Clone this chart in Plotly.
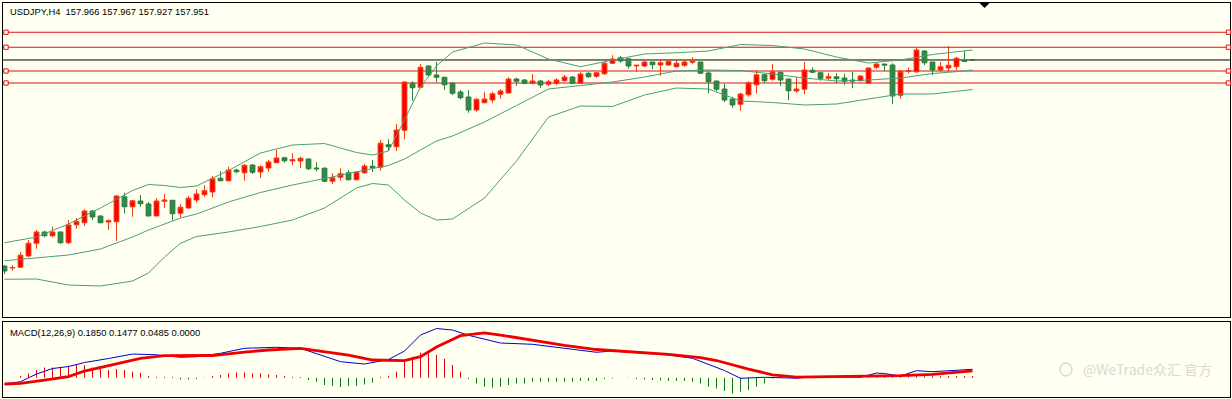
import plotly.graph_objects as go

W, H = 1232, 399

# ---------------- price data (USDJPY H4) ----------------
opens = [149.71, 149.63, 149.66, 150.11, 150.62, 151.07, 150.92, 151.07, 150.64, 151.36,
         151.44, 151.91, 151.71, 151.47, 151.48, 152.48, 152.08, 152.31, 152.19, 151.71,
         152.30, 152.34, 151.82, 152.03, 152.35, 152.56, 152.67, 153.22, 153.12, 153.55,
         153.44, 153.75, 153.47, 153.63, 153.84, 154.04, 153.91, 153.91, 153.99, 153.63,
         153.62, 153.10, 153.26, 153.44, 153.16, 153.44, 153.70, 153.66, 154.56, 154.48,
         155.14, 157.02, 156.86, 157.71, 157.35, 157.26, 157.02, 156.67, 156.47, 155.95,
         156.24, 156.35, 156.58, 156.63, 157.19, 157.15, 157.02, 157.11, 156.98, 157.02,
         157.12, 157.27, 157.02, 157.42, 157.30, 157.40, 157.82, 158.04, 158.00, 157.71,
         157.71, 157.87, 157.75, 157.75, 157.68, 157.74, 157.86, 157.87, 157.43, 157.11,
         156.79, 156.39, 156.18, 156.56, 156.96, 157.36, 157.18, 157.46, 157.19, 156.71,
         156.78, 157.54, 157.44, 157.22, 157.28, 157.23, 157.15, 157.12, 157.02, 157.66,
         157.79, 157.75, 156.54, 157.50, 157.48, 158.31, 157.87, 157.55, 157.63, 157.68,
         157.94, 157.966]
highs = [149.75, 149.74, 150.27, 150.75, 151.15, 151.12, 151.28, 151.08, 151.55, 151.63,
         151.98, 151.95, 151.74, 151.58, 152.55, 152.64, 152.35, 152.55, 152.27, 152.42,
         152.59, 152.35, 152.18, 152.51, 152.78, 152.94, 153.31, 153.50, 153.68, 153.60,
         153.79, 153.78, 153.74, 153.95, 154.35, 154.08, 154.22, 154.08, 154.02, 153.86,
         153.66, 153.42, 153.62, 153.55, 153.50, 153.79, 153.95, 154.75, 154.78, 155.39,
         157.10, 157.10, 157.79, 157.74, 157.88, 157.28, 157.07, 156.75, 156.75, 156.42,
         156.68, 156.68, 156.79, 157.26, 157.24, 157.19, 157.39, 157.14, 157.15, 157.22,
         157.35, 157.31, 157.46, 157.46, 157.48, 157.86, 158.14, 158.11, 158.00, 157.74,
         157.91, 157.87, 157.98, 157.98, 157.98, 157.95, 158.06, 157.87, 157.52, 157.12,
         156.99, 156.48, 156.64, 157.10, 157.55, 157.39, 157.79, 157.48, 157.19, 157.26,
         157.87, 157.66, 157.48, 157.44, 157.42, 157.39, 157.48, 157.34, 157.66, 157.82,
         157.79, 157.82, 157.55, 157.66, 158.43, 158.35, 157.87, 157.87, 158.51, 158.08,
         158.31, 157.967]
lows = [149.39, 149.54, 149.63, 150.06, 150.40, 150.86, 150.86, 150.59, 150.59, 151.20,
        151.31, 151.55, 151.42, 151.15, 150.71, 151.82, 151.68, 152.08, 151.71, 151.71,
        152.03, 151.54, 151.66, 152.00, 152.24, 152.46, 152.46, 153.10, 153.10, 153.42,
        153.12, 153.39, 153.23, 153.48, 153.84, 153.84, 153.74, 153.63, 153.55, 153.50,
        153.06, 152.99, 153.12, 153.14, 153.14, 153.39, 153.47, 153.52, 154.31, 154.31,
        154.78, 156.32, 156.82, 157.26, 157.08, 156.76, 156.55, 156.38, 155.84, 155.88,
        156.22, 156.22, 156.40, 156.62, 156.92, 156.98, 156.98, 156.84, 156.91, 156.95,
        157.08, 157.00, 157.00, 157.24, 157.24, 157.35, 157.79, 157.84, 157.60, 157.48,
        157.66, 157.58, 157.32, 157.71, 157.64, 157.68, 157.78, 157.39, 156.62, 156.70,
        156.27, 156.04, 155.92, 156.48, 156.62, 157.04, 157.12, 156.92, 156.35, 156.64,
        156.58, 157.42, 157.12, 157.15, 157.02, 156.96, 156.82, 157.10, 156.99, 157.59,
        157.52, 156.18, 156.40, 157.42, 157.44, 157.75, 157.35, 157.48, 157.48, 157.55,
        157.90, 157.927]
closes = [149.51, 149.65, 150.14, 150.62, 151.07, 150.92, 151.07, 150.64, 151.35, 151.50,
          151.91, 151.67, 151.44, 151.52, 152.51, 152.08, 152.32, 152.20, 151.71, 152.31,
          152.35, 151.80, 152.06, 152.42, 152.59, 152.72, 153.20, 153.12, 153.55, 153.48,
          153.74, 153.46, 153.68, 153.87, 154.03, 153.92, 153.96, 154.02, 153.60, 153.60,
          153.10, 153.24, 153.40, 153.16, 153.47, 153.71, 153.64, 154.62, 154.48, 155.15,
          157.07, 156.84, 157.66, 157.35, 157.26, 156.96, 156.62, 156.44, 155.95, 156.38,
          156.39, 156.60, 156.71, 157.19, 157.10, 157.02, 157.11, 156.95, 157.08, 157.15,
          157.27, 157.02, 157.39, 157.28, 157.44, 157.82, 157.99, 157.91, 157.71, 157.74,
          157.87, 157.76, 157.84, 157.90, 157.82, 157.87, 157.90, 157.42, 157.08, 156.78,
          156.35, 156.15, 156.59, 157.04, 157.36, 157.12, 157.48, 157.15, 156.72, 156.79,
          157.55, 157.46, 157.22, 157.28, 157.20, 157.10, 157.11, 157.31, 157.63, 157.79,
          157.75, 156.51, 157.50, 157.52, 158.35, 157.84, 157.55, 157.68, 157.74, 158.02,
          157.90, 157.951]

# ---------------- Bollinger bands ----------------
band_idx = [0, 4, 8, 12, 16, 18, 20, 22, 24, 28, 32, 36, 40, 44, 46, 48, 50, 52, 54, 56,
            60, 64, 68, 72, 76, 80, 84, 88, 92, 96, 100, 104, 108, 112, 116, 120, 121]
band_upper = [150.64, 150.87, 151.39, 152.03, 152.73, 152.97, 152.93, 152.85, 152.91, 153.53,
              154.23, 154.55, 154.61, 154.25, 154.15, 154.31, 155.55, 156.87, 157.71, 158.27,
              158.63, 158.55, 157.99, 157.68, 157.95, 158.19, 158.24, 158.31, 158.57, 158.53,
              158.39, 158.07, 157.83, 157.95, 158.17, 158.31, 158.35]
band_middle = [149.92, 150.05, 150.15, 150.39, 150.87, 151.15, 151.39, 151.63, 151.79, 152.27,
               152.65, 152.95, 153.21, 153.49, 153.61, 153.73, 153.99, 154.35, 154.71, 154.91,
               155.47, 156.13, 156.79, 156.93, 157.07, 157.27, 157.51, 157.55, 157.53, 157.39,
               157.23, 157.11, 157.15, 157.23, 157.41, 157.51, 157.55]
band_lower = [149.18, 149.19, 148.95, 148.91, 149.11, 149.43, 150.07, 150.62, 150.89, 151.07,
              151.29, 151.55, 152.03, 152.83, 153.01, 152.95, 152.35, 151.83, 151.55, 151.59,
              152.43, 153.91, 155.67, 156.11, 156.09, 156.55, 156.83, 156.79, 156.31, 156.25,
              156.15, 156.19, 156.39, 156.59, 156.59, 156.75, 156.77]

# ---------------- horizontal levels ----------------
red_levels = [159.06, 158.46, 157.51, 157.03]
current_price = 157.951

# ---------------- MACD (12,26,9) ----------------
macd_idx = [0, 2, 4, 6, 8, 10, 13, 16, 19, 22, 24, 27, 30, 34, 37, 40, 42, 45, 48, 50,
            52, 54, 56, 58, 60, 62, 66, 70, 74, 76, 79, 83, 86, 88, 90, 92, 95, 99, 101, 107,
            109, 110, 112, 114, 116, 119, 121]
macd_vals = [-0.139, -0.088, 0.081, 0.202, 0.246, 0.334, 0.422, 0.521, 0.504, 0.449,
             0.462, 0.537, 0.647, 0.669, 0.647, 0.471, 0.352, 0.301, 0.400, 0.587,
             0.939, 1.082, 1.049, 0.933, 0.840, 0.763, 0.735, 0.653, 0.559, 0.587,
             0.554, 0.499, 0.427, 0.301, 0.158, -0.013, 0.009, -0.011, 0.022, 0.009,
             0.103, 0.092, 0.037, 0.154, 0.132, 0.163, 0.185]
signal_idx = [0, 2, 5, 8, 10, 13, 17, 20, 26, 30, 33, 37, 40, 43, 46, 50, 52, 54, 57, 60,
              62, 66, 70, 74, 79, 83, 87, 89, 93, 96, 99, 107, 112, 116, 121]
signal_vals = [-0.139, -0.123, -0.051, 0.026, 0.147, 0.268, 0.427, 0.484, 0.488, 0.565,
               0.609, 0.647, 0.576, 0.499, 0.389, 0.375, 0.462, 0.675, 0.924, 0.988,
               0.939, 0.829, 0.713, 0.620, 0.570, 0.515, 0.440, 0.378, 0.187, 0.064,
               0.013, 0.022, 0.044, 0.075, 0.148]
hist_vals = [0, 0, 0.037, 0.095, 0.169, 0.227, 0.227, 0.227, 0.264, 0.279,
             0.279, 0.227, 0.191, 0.169, 0.191, 0.169, 0.132, 0.110, 0.037, 0.022,
             0.022, 0.022, -0.037, -0.037, -0.029, 0.005, 0.037, 0.059, 0.095, 0.117,
             0.117, 0.095, 0.095, 0.073, 0.059, 0.037, 0.022, 0.015, -0.051, -0.088,
             -0.161, -0.183, -0.205, -0.183, -0.183, -0.147, -0.110, 0.022, 0.037, 0.132,
             0.374, 0.462, 0.550, 0.572, 0.506, 0.418, 0.279, 0.132, -0.029, -0.125,
             -0.198, -0.220, -0.198, -0.161, -0.125, -0.125, -0.088, -0.088, -0.088, -0.088,
             -0.088, -0.088, -0.073, -0.073, -0.073, -0.029, -0.015, 0.0, -0.007, -0.029,
             -0.037, -0.051, -0.059, -0.073, -0.073, -0.073, -0.088, -0.125, -0.198, -0.235,
             -0.293, -0.345, -0.308, -0.271, -0.198, -0.125, -0.015, 0.0, 0.0, 0.0,
             0.0, 0.0, 0.0, 0.0, 0.0, 0.0, 0.0, 0.022, 0.029, 0.029,
             0.029, 0.029, 0.029, 0.029, 0.033, 0.033, 0.033, 0.033, 0.037, 0.037,
             0.037, 0.037]

title_text = "USDJPY,H4  157.966 157.967 157.927 157.951"
macd_text = "MACD(12,26,9) 0.1850 0.1477 0.0485 0.0000"
watermark_text = "@WeTrade众汇 官方"

# ---------------- styling ----------------
BG = "#FFFFF2"
BAND = "#4A9E78"
UP_FILL, UP_LINE = "#FF0000", "#F03A10"
DN_FILL, DN_LINE = "#2E8B47", "#2E7D3E"
LVL = "#DD1111"
X_RANGE = [-0.1875, 153.1875]   # 8 px per bar, bar centres on pixel centres


def px(x):
    return x / W


def py(y):
    return 1 - y / H


n = len(opens)
idx = list(range(n))

fig = go.Figure()

fig.add_trace(go.Candlestick(
    x=idx, open=opens, high=highs, low=lows, close=closes,
    increasing=dict(line=dict(color=UP_LINE, width=1), fillcolor=UP_FILL),
    decreasing=dict(line=dict(color=DN_LINE, width=1), fillcolor=DN_FILL),
    whiskerwidth=0, hoverinfo="none", showlegend=False, xaxis="x", yaxis="y"))

for band in (band_upper, band_middle, band_lower):
    fig.add_trace(go.Scatter(x=band_idx, y=band, mode="lines",
                             line=dict(color=BAND, width=1),
                             hoverinfo="none", showlegend=False, xaxis="x", yaxis="y"))

# MACD panel
fig.add_trace(go.Bar(
    x=idx, y=hist_vals, width=0.125,
    marker=dict(color=["#E80000" if v >= 0 else "#0A800A" for v in hist_vals],
                line=dict(width=0)),
    hoverinfo="none", showlegend=False, xaxis="x2", yaxis="y2"))
fig.add_trace(go.Scatter(x=macd_idx, y=macd_vals, mode="lines",
                         line=dict(color="#0000CC", width=1),
                         hoverinfo="none", showlegend=False, xaxis="x2", yaxis="y2"))
fig.add_trace(go.Scatter(x=signal_idx, y=signal_vals, mode="lines",
                         line=dict(color="#EE0000", width=2.8),
                         hoverinfo="none", showlegend=False, xaxis="x2", yaxis="y2"))

shapes = []
x_left, x_right = px(3), px(1230)
for lv in red_levels:
    shapes.append(dict(type="line", xref="paper", yref="y", x0=x_left, x1=x_right,
                       y0=lv, y1=lv, line=dict(color=LVL, width=1), layer="below"))
    for cx in (6, 1228.5):
        shapes.append(dict(type="rect", xref="paper", yref="y",
                           x0=px(cx - 2.2), x1=px(cx + 2.2), y0=lv - 0.085, y1=lv + 0.085,
                           line=dict(color=LVL, width=1), fillcolor=BG, layer="above"))
shapes.append(dict(type="line", xref="paper", yref="y", x0=x_left, x1=x_right,
                   y0=current_price, y1=current_price,
                   line=dict(color="#000000", width=1), layer="below"))
# chart-shift marker
shapes.append(dict(type="path", xref="paper", yref="paper",
                   path=f"M {px(979.5)},{py(3)} L {px(989.5)},{py(3)} L {px(984.5)},{py(8)} Z",
                   fillcolor="#000000", line=dict(color="#000000", width=0)))
# watermark icon
shapes.append(dict(type="circle", xref="paper", yref="paper",
                   x0=px(1060), x1=px(1072), y0=py(376), y1=py(363),
                   line=dict(color="#DADAD4", width=1.5), fillcolor="rgba(0,0,0,0)"))

axis_common = dict(showticklabels=False, showgrid=False, zeroline=False, ticks="",
                   showline=True, linecolor="#000000", linewidth=1, mirror=True,
                   fixedrange=True)

fig.update_layout(
    width=W, height=H,
    margin=dict(l=0, r=0, t=0, b=0),
    paper_bgcolor=BG, plot_bgcolor=BG,
    showlegend=False,
    boxgap=0.4, boxgroupgap=0,
    xaxis=dict(domain=[px(3), px(1230)], range=X_RANGE, anchor="y",
               rangeslider=dict(visible=False), **axis_common),
    yaxis=dict(domain=[py(317), py(3)], range=[147.67, 160.23], anchor="x", **axis_common),
    xaxis2=dict(domain=[px(3), px(1230)], range=X_RANGE, anchor="y2", **axis_common),
    yaxis2=dict(domain=[py(397), py(322)], range=[-0.4246, 1.2254], anchor="x2", **axis_common),
    shapes=shapes,
    annotations=[
        dict(text=title_text, xref="paper", yref="paper", x=px(8), y=py(11),
             xanchor="left", yanchor="middle", showarrow=False,
             font=dict(family="Liberation Sans", size=9.4, color="#000000")),
        dict(text=macd_text, xref="paper", yref="paper", x=px(8), y=py(332),
             xanchor="left", yanchor="middle", showarrow=False,
             font=dict(family="Liberation Sans", size=9.4, color="#000000")),
        dict(text=watermark_text, xref="paper", yref="paper", x=px(1081), y=py(369),
             xanchor="left", yanchor="middle", showarrow=False,
             font=dict(family="Noto Sans CJK SC", size=14, color="#DADAD4")),
    ],
)

fig.write_html(
    "out.html",
    config={"displayModeBar": False, "staticPlot": True},
    post_script="document.body.style.margin='0px';document.body.style.overflow='hidden';"
                "document.body.style.background='" + BG + "';",
)
